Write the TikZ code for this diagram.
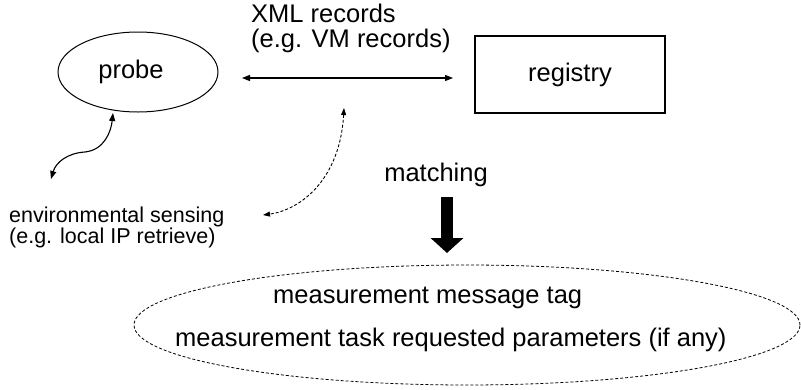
\documentclass[tikz,border=0pt]{standalone}
\usepackage{fontspec}
\setmainfont{Liberation Sans}
\usetikzlibrary{arrows.meta,shapes.geometric}
\tikzset{
  txt/.style={inner sep=0pt, font=\fontsize{25.5}{25}\selectfont},
  smalltxt/.style={inner sep=0pt, align=left, font=\fontsize{21.5}{21}\selectfont},
  conn/.style={line width=1.1pt, {Triangle[length=8pt,width=6pt]}-{Triangle[length=8pt,width=6pt]}},
  dconn/.style={line width=0.9pt, dash pattern=on 3pt off 2pt, {Triangle[length=7pt,width=5pt]}-{Triangle[length=7pt,width=5pt]}},
  bigarrow/.style={line width=12pt, -{Triangle[length=15pt,width=32pt]}},
}
\begin{document}
\begin{tikzpicture}[x=1pt,y=-1pt]
\useasboundingbox (0,0) rectangle (801,389);
% nodes
\node[txt, draw, ellipse, line width=1pt, minimum width=160pt, minimum height=80pt] (probe) at (138,72) {};
\node[txt] (probetxt) at (131,72) {probe};
\node[txt, draw, line width=2pt, minimum width=190pt, minimum height=77pt] (registry) at (570,74.5) {registry};
\node[txt, align=left, anchor=west] (xml) at (251,28) {XML records\\(e.g. VM records)};
\node[smalltxt, anchor=west] (env) at (9,227.5) {environmental sensing\\(e.g. local IP retrieve)};
\node[txt] (matching) at (436,175) {matching};
\node[draw, ellipse, line width=0.8pt, dash pattern=on 3pt off 2pt, minimum width=666pt, minimum height=120pt, inner sep=0pt] (meas) at (467,325) {};
\node[txt, anchor=west] (tag) at (273,298) {measurement message tag};
\node[txt, anchor=west] (params) at (175,340) {measurement task requested parameters (if any)};
% connector end points
\coordinate (a1) at (242,78);
\coordinate (a2) at (453,78);
\coordinate (s1) at (51,179);
\coordinate (s2) at (113,113);
\coordinate (d1) at (344,108);
\coordinate (d2) at (263,215);
\coordinate (m1) at (447,197);
\coordinate (m2) at (447,253);
% connectors
\draw[conn] (a1) -- (a2);
\draw[conn] (s1) .. controls (56,162) and (68,153) .. (85,152) .. controls (104,150) and (111,132) .. (s2);
\draw[dconn] (d1) .. controls (340,180) and (300,210) .. (d2);
\draw[bigarrow] (m1) -- (m2);
\end{tikzpicture}
\end{document}
